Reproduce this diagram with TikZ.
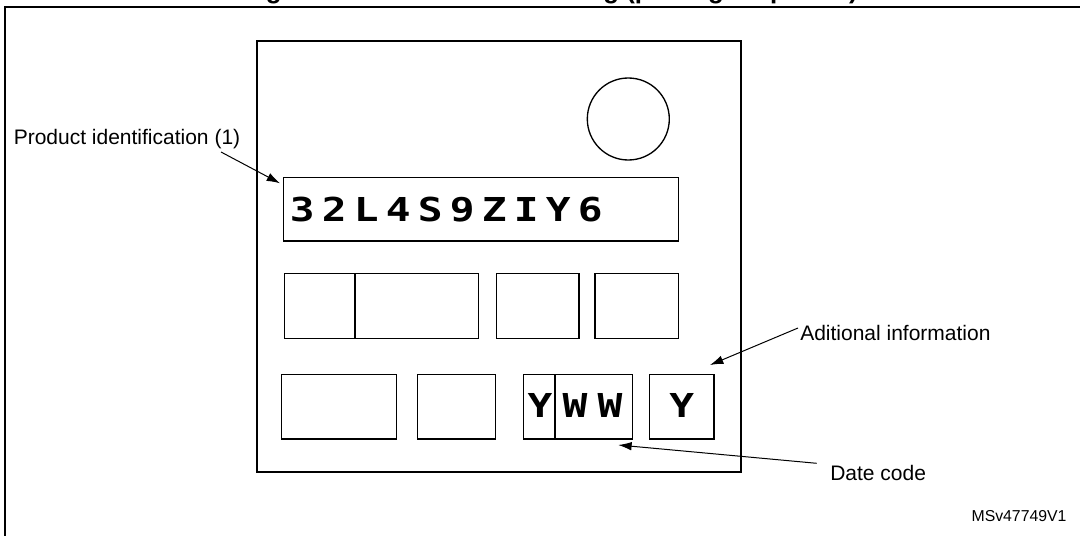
\documentclass[tikz,border=0pt]{standalone}
\usepackage{fontspec}
\setmainfont{Liberation Sans}
\newfontfamily\idfont[FakeStretch=1.25]{DejaVu Sans Mono}
\usetikzlibrary{arrows.meta,fit}
\newcommand\cb[1]{\makebox[24pt]{#1}}
\newcommand\cw[1]{\makebox[26.25pt]{#1}}
\tikzset{
  box/.style={draw, line width=1.1pt, inner sep=0pt},
  pkg/.style={draw, line width=1.5pt, inner sep=0pt},
  divline/.style={line width=1.6pt},
  arr/.style={line width=0.75pt, -{Latex[length=10pt,width=6.5pt]}},
  lbl/.style={font=\fontsize{15.75}{18}\selectfont, inner sep=0pt},
  marktext/.style={font=\idfont\bfseries\fontsize{24.7}{26}\selectfont, inner sep=0pt}
}
\begin{document}
\begin{tikzpicture}[x=0.75pt,y=-0.75pt]
\useasboundingbox (0,0) rectangle (1080,535);
\clip (0,0) rectangle (1080,535);
% cut-off title and outer frame
\node[anchor=base east, inner sep=0pt, font=\bfseries\fontsize{19.4}{22}\selectfont] (title) at (858,-1) {Figure 71. WLCSP144 marking (package top view)};
\draw[line width=1.5pt] (5,545) -- (5,7.5) -- (1090,7.5);
% package
\node[pkg, fit={(257,40.7) (741,471.7)}] (pkgbox) {};
\node[draw, line width=1pt, circle, minimum size=61.5pt, inner sep=0pt] (dot) at (628.3,119) {};
% product identification
\node[box, fit={(283.3,177.3) (678.3,241)}] (idbox) {};
\node[marktext, anchor=base west] (idtext) at (286,221) {\cb{3}\cb{2}\cb{L}\cb{4}\cb{S}\cb{9}\cb{Z}\cb{I}\cb{Y}\cb{6}};
% row 1
\node[box, fit={(284.3,273.3) (478.3,338.3)}] (ba) {};
\draw[divline] (355,273.3) -- (355,338.3);
\node[box, fit={(496.7,273.3) (579,338.3)}] (bb) {};
\node[box, fit={(595,273.3) (678.3,338.3)}] (bc) {};
% row 2
\node[box, fit={(281.7,374.3) (396.7,439)}] (bd) {};
\node[box, fit={(417.7,374.3) (495.7,439)}] (be) {};
\node[box, fit={(523.3,374.3) (632.3,439)}] (bf) {};
\draw[divline] (555,374.3) -- (555,439);
\node[box, fit={(649.3,374.3) (714,439)}] (bg) {};
\node[marktext, anchor=base] (y1) at (540,417) {Y};
\node[marktext, anchor=base] (ww) at (592.5,417) {\cw{W}\cw{W}};
\node[marktext, anchor=base] (y2) at (681.7,417) {Y};
% labels
\node[lbl, anchor=base west] (pid) at (13.5,144) {Product identification (1)};
\node[lbl, anchor=base west] (ai) at (800,340.5) {Aditional information};
\node[lbl, anchor=base west] (dc) at (830,480) {Date code};
\node[inner sep=0pt, anchor=base east, font=\fontsize{11.85}{14}\selectfont] (ref) at (1066.7,521.5) {MSv47749V1};
% arrow endpoints
\coordinate (pidfrom) at (221,152);
\coordinate (pidto) at (280,183.3);
\coordinate (aifrom) at (798,328);
\coordinate (aito) at (710,365);
\coordinate (dcfrom) at (816.7,463.3);
\coordinate (dcto) at (618.3,445);
\draw[arr] (pidfrom) -- (pidto);
\draw[arr] (aifrom) -- (aito);
\draw[arr] (dcfrom) -- (dcto);
\end{tikzpicture}
\end{document}
